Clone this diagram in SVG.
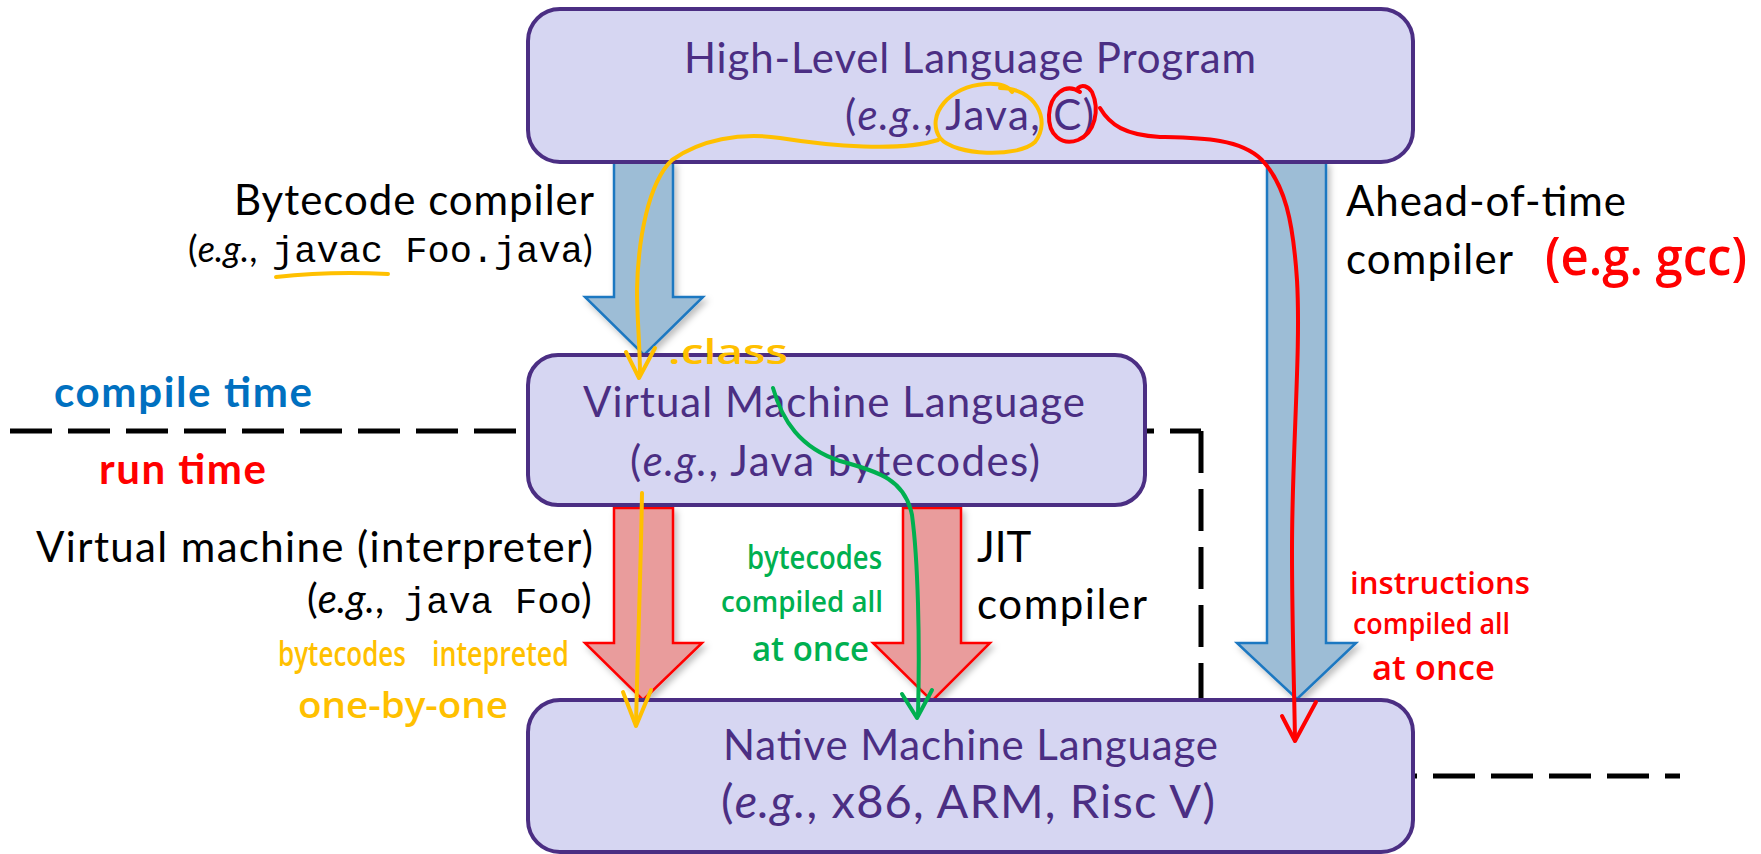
<svg xmlns="http://www.w3.org/2000/svg" width="1761" height="854" viewBox="0 0 1761 854">
<style>
.box{fill:#D6D6F2;stroke:#4B2E83;stroke-width:4}
.bt{font-family:Lato,"Open Sans","Liberation Sans",sans-serif;fill:#4B2E83;font-size:42px}
.lbl{font-family:Lato,"Open Sans","Liberation Sans",sans-serif;fill:#000;font-size:42px}
.mono{font-family:"Liberation Mono","DejaVu Sans Mono",monospace;fill:#000;font-size:37px}
.it{font-style:italic}
.blue{fill:#9DBDD6;stroke:#1F78C1;stroke-width:2.5}
.red{fill:#E99C9C;stroke:#FF0000;stroke-width:2.5}
.dash{fill:none;stroke:#000;stroke-width:5;stroke-dasharray:42 16}
.hand{font-family:"Open Sans","Noto Sans","Liberation Sans",sans-serif;font-weight:600}
.pen{fill:none;stroke-width:4;stroke-linecap:round;stroke-linejoin:round}
</style>
<defs>
<filter id="sh" x="-30%" y="-10%" width="160%" height="130%">
<feDropShadow dx="3" dy="4" stdDeviation="3" flood-color="#000" flood-opacity="0.25"/>
</filter>
</defs>
<rect width="1761" height="854" fill="#fff"/>

<g id="phase-divider">
<path class="dash" d="M10 431 H1201"/>
<path class="dash" d="M1201 431 V776"/>
<path class="dash" d="M1201 776 H1680"/>
</g>

<g id="connectors">
<polygon id="arrow-bytecode" class="blue" filter="url(#sh)" points="614,162 673,162 673,297 703,297 644,355 585,297 614,297"/>
<polygon id="arrow-aot" class="blue" filter="url(#sh)" points="1267,162 1326,162 1326,643 1356,643 1297,699 1237,643 1267,643"/>
<polygon id="arrow-interp" class="red" filter="url(#sh)" points="614,508 673,508 673,643 702,643 643,700 585,643 614,643"/>
<polygon id="arrow-jit" class="red" filter="url(#sh)" points="903,508 961,508 961,643 990,643 932,701 873,643 903,643"/>
</g>

<g id="node-high-level">
<rect class="box" x="528" y="9" width="885" height="153" rx="32"/>
<text class="bt" x="684" y="73" textLength="572">High-Level Language Program</text>
<text class="bt" x="845" y="130" textLength="249">(<tspan class="it">e.g.</tspan>, Java, C)</text>
</g>

<g id="node-vm">
<rect class="box" x="528" y="355" width="617" height="150" rx="30"/>
<text class="bt" x="583" y="417" textLength="502">Virtual Machine Language</text>
<text class="bt" x="630" y="476" textLength="410">(<tspan class="it">e.g.</tspan>, Java bytecodes)</text>
</g>

<g id="node-native">
<rect class="box" x="528" y="700" width="885" height="152" rx="32"/>
<text class="bt" x="723" y="760" textLength="495">Native Machine Language</text>
<text class="bt" x="721" y="818" style="font-size:47px" textLength="494">(<tspan class="it">e.g.</tspan>, x86, ARM, Risc V)</text>
</g>

<g id="labels">
<text class="lbl" x="234" y="215" textLength="360">Bytecode compiler</text>
<text class="lbl" x="188" y="262" style="font-size:36px">(<tspan class="it">e.g.</tspan>,</text>
<text class="mono" x="272" y="262">javac Foo.java</text>
<text class="lbl" x="583" y="262" style="font-size:36px">)</text>

<text class="lbl" x="36" y="562" textLength="557">Virtual machine (interpreter)</text>
<text class="lbl" x="307" y="613" style="font-size:40px">(<tspan class="it">e.g.</tspan>,</text>
<text class="mono" x="404" y="613">java Foo</text>
<text class="lbl" x="581" y="613" style="font-size:40px">)</text>

<text class="lbl" x="977" y="562">JIT</text>
<text class="lbl" x="977" y="619" textLength="170">compiler</text>

<text class="lbl" x="1346" y="216" textLength="280">Ahead-of-time</text>
<text class="lbl" x="1346" y="274" textLength="167">compiler</text>

<text x="54" y="407" textLength="258" style="font-family:Lato,'Open Sans','Liberation Sans',sans-serif;font-weight:bold;font-size:42px;fill:#0070C0">compile time</text>
<text x="99" y="484" textLength="167" style="font-family:Lato,'Open Sans','Liberation Sans',sans-serif;font-weight:bold;font-size:42px;fill:#FF0000">run time</text>
</g>

<g id="annotations">
<!-- yellow: Java path -->
<path class="pen" stroke="#FFC000" d="M1000 88 C1035 88 1052 120 1035 142 C1018 158 955 156 940 138 C925 115 950 86 985 84 C1000 83 1008 86 1012 92"/>
<path class="pen" stroke="#FFC000" d="M938 140 C900 152 830 146 780 138 C740 132 700 140 672 160 C648 183 638 240 637 290 C637 320 640 345 640 375"/>
<path class="pen" stroke="#FFC000" d="M626 352 L639 378 L655 348"/>
<path class="pen" stroke="#FFC000" d="M276 277 Q330 271 388 274"/>
<path class="pen" stroke="#FFC000" d="M642 493 C641 560 638 640 636 724"/>
<path class="pen" stroke="#FFC000" d="M623 692 L636 726 L651 690"/>
<text class="hand" x="668" y="364" font-size="35" textLength="120" lengthAdjust="spacingAndGlyphs" fill="#FFC000">.class</text>
<text class="hand" x="278" y="666" font-size="34" textLength="128" lengthAdjust="spacingAndGlyphs" fill="#FFC000">bytecodes</text>
<text class="hand" x="432" y="666" font-size="34" textLength="137" lengthAdjust="spacingAndGlyphs" fill="#FFC000">intepreted</text>
<text class="hand" x="298" y="718" font-size="36" textLength="210" lengthAdjust="spacingAndGlyphs" fill="#FFC000">one-by-one</text>

<!-- green: JIT path -->
<path class="pen" stroke="#00B050" d="M773 388 C782 420 800 448 840 461 C880 472 905 480 912 515 C918 560 920 640 918 715"/>
<path class="pen" stroke="#00B050" d="M902 694 L917 718 L932 690"/>
<text class="hand" x="747" y="569" font-size="32" textLength="135" lengthAdjust="spacingAndGlyphs" fill="#00B050">bytecodes</text>
<text class="hand" x="721" y="612" font-size="29" textLength="162" lengthAdjust="spacingAndGlyphs" fill="#00B050">compiled all</text>
<text class="hand" x="752" y="661" font-size="34" textLength="117" lengthAdjust="spacingAndGlyphs" fill="#00B050">at once</text>

<!-- red: C path -->
<path class="pen" stroke="#FF0000" d="M1080 92 C1065 82 1050 95 1049 115 C1048 135 1062 146 1078 140 C1095 133 1100 110 1092 92 C1088 86 1082 84 1078 88"/>
<path class="pen" stroke="#FF0000" d="M1100 108 C1110 125 1125 135 1160 137 C1200 138 1240 138 1262 160 C1285 185 1293 220 1297 280 C1301 350 1292 450 1292 550 C1292 620 1294 680 1295 740"/>
<path class="pen" stroke="#FF0000" d="M1282 716 L1295 741 L1316 702"/>
<text class="hand" x="1545" y="275" font-size="52" textLength="202" lengthAdjust="spacingAndGlyphs" fill="#FF0000">(e.g. gcc)</text>
<text class="hand" x="1350" y="594" font-size="30" textLength="180" lengthAdjust="spacingAndGlyphs" fill="#FF0000">instructions</text>
<text class="hand" x="1353" y="634" font-size="28" textLength="157" lengthAdjust="spacingAndGlyphs" fill="#FF0000">compiled all</text>
<text class="hand" x="1372" y="680" font-size="34" textLength="123" lengthAdjust="spacingAndGlyphs" fill="#FF0000">at once</text>
</g>
</svg>
